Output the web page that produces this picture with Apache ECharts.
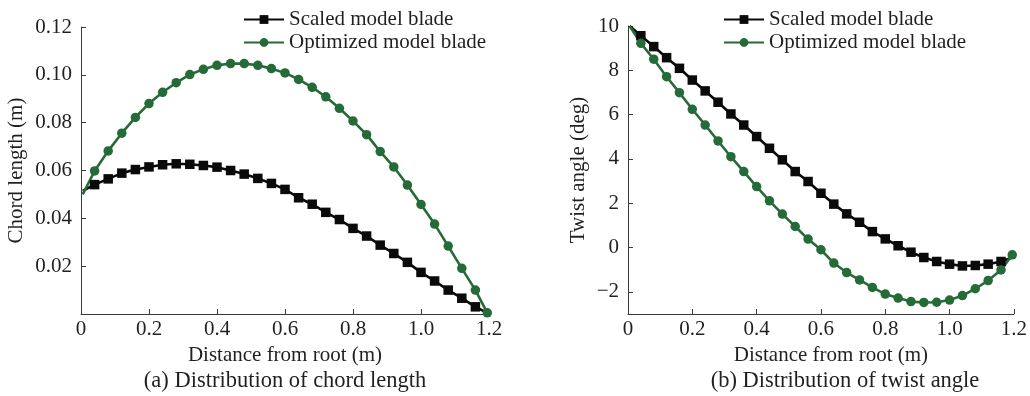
<!DOCTYPE html>
<html>
<head>
<meta charset="utf-8">
<script src="https://cdn.jsdelivr.net/npm/echarts@6/dist/echarts.min.js"></script>
<style>
  html, body { margin: 0; padding: 0; background: #fff; }
  #chart { width: 1030px; height: 396px; }
</style>
</head>
<body>
<div id="chart"></div>
<script>
// distance from root (m), one entry per plotted point
const distance = [0.005, 0.04, 0.08, 0.12, 0.16, 0.2, 0.24, 0.28, 0.32, 0.36, 0.4, 0.44, 0.48, 0.52, 0.56, 0.6,
  0.64, 0.68, 0.72, 0.76, 0.8, 0.84, 0.88, 0.92, 0.96, 1.0, 1.04, 1.08, 1.12, 1.16, 1.195]

// chord length (m)
const chordScaled = [0.0515, 0.0541, 0.0565, 0.0589, 0.0604, 0.0615, 0.0624, 0.0628, 0.0626, 0.0621, 0.0614,
  0.0600, 0.0585, 0.0567, 0.0546, 0.0521, 0.0486, 0.0459, 0.0425, 0.0395, 0.0358, 0.0326, 0.0288, 0.0253,
  0.0216, 0.0174, 0.0138, 0.0100, 0.0066, 0.0030, 0.0005]
const chordOptimized = [0.0500, 0.0598, 0.0682, 0.0756, 0.0822, 0.0880, 0.0927, 0.0967, 0.1001, 0.1023, 0.1040,
  0.1047, 0.1047, 0.1040, 0.1026, 0.1008, 0.0981, 0.0948, 0.0908, 0.0860, 0.0807, 0.0750, 0.0679, 0.0615,
  0.0539, 0.0458, 0.0376, 0.0284, 0.0191, 0.0100, 0.0005]

// twist angle (deg)
const twistScaled = [10.0, 9.56, 9.07, 8.57, 8.09, 7.56, 7.07, 6.56, 6.03, 5.53, 5.01, 4.48, 3.96, 3.43, 2.98,
  2.45, 1.96, 1.52, 1.14, 0.72, 0.39, 0.08, -0.21, -0.45, -0.63, -0.75, -0.83, -0.81, -0.75, -0.63, -0.45]
const twistOptimized = [10.0, 9.22, 8.50, 7.71, 6.99, 6.24, 5.53, 4.81, 4.10, 3.43, 2.75, 2.11, 1.51, 0.95, 0.38,
  -0.10, -0.70, -1.13, -1.46, -1.80, -2.10, -2.28, -2.44, -2.48, -2.47, -2.37, -2.17, -1.86, -1.49, -1.01, -0.33]

const twistTicks = [-2, 0, 2, 4, 6, 8, 10]
const seriesNames = ['Scaled model blade', 'Optimized model blade']
const captions = ['(a) Distribution of chord length', '(b) Distribution of twist angle']

const FONT = 'Liberation Serif, Times New Roman, serif'
const TEXT = '#231f20'
const AXIS = '#3a3a3a'
const BLACK = '#0a0a0a'
const GREEN = '#256b38'

const chart = echarts.init(document.getElementById('chart'))

// first point has no marker; the black end point is hidden under the green one
const toData = (values, hideLast) =>
  distance.map((d, i) => {
    const item = { value: [d, values[i]] }
    if (i === 0 || (hideLast && i === distance.length - 1)) item.symbol = 'none'
    return item
  })

const xAxisBase = (gridIndex) => ({
  type: 'value',
  gridIndex,
  min: 0,
  max: 1.2,
  interval: 0.2,
  name: 'Distance from root (m)',
  nameLocation: 'middle',
  nameGap: 26,
  nameTextStyle: { fontFamily: FONT, fontSize: 21, color: TEXT, padding: gridIndex === 1 ? [0, 0, 0, 20] : 0 },
  axisLine: { onZero: false, lineStyle: { color: AXIS, width: 1 } },
  axisTick: { inside: true, length: 5, lineStyle: { color: AXIS } },
  axisLabel: {
    fontFamily: FONT, fontSize: 21, color: TEXT, margin: 5,
    formatter: (v) => (v === 0 ? '0' : v.toFixed(1)),
  },
  splitLine: { show: false },
})

const makeSeries = (name, symbol, color, values, xi, hideLast) => ({
  name,
  type: 'line',
  xAxisIndex: xi,
  yAxisIndex: xi,
  symbol,
  symbolSize: 9.5,
  showAllSymbol: true,
  lineStyle: { color, width: 2.6 },
  itemStyle: { color },
  data: toData(values, hideLast),
  animation: false,
})

const legendBase = (left) => ({
  data: seriesNames,
  orient: 'vertical',
  left,
  top: 9,
  padding: 0,
  itemWidth: 40,
  itemHeight: 11,
  itemGap: 2,
  textStyle: { fontFamily: FONT, fontSize: 21, color: TEXT },
})

const option = {
  backgroundColor: '#fff',
  animation: false,
  grid: [
    { left: 81, right: 541, top: 27, bottom: 82 },
    { left: 628, right: 15, top: 26, bottom: 82 },
  ],
  legend: [legendBase(243), legendBase(723)],
  xAxis: [xAxisBase(0), xAxisBase(1)],
  yAxis: [
    {
      type: 'value',
      gridIndex: 0,
      min: 0,
      max: 0.12,
      interval: 0.02,
      name: 'Chord length (m)',
      nameLocation: 'middle',
      nameGap: 54,
      nameTextStyle: { fontFamily: FONT, fontSize: 21, color: TEXT },
      axisLine: { show: true, onZero: false, lineStyle: { color: AXIS, width: 1 } },
      axisTick: { show: true, inside: true, length: 5, lineStyle: { color: AXIS } },
      axisLabel: {
        fontFamily: FONT, fontSize: 21, color: TEXT, margin: 9,
        formatter: (v) => (v === 0 ? '' : v.toFixed(2)),
      },
      splitLine: { show: false },
    },
    {
      type: 'value',
      gridIndex: 1,
      min: -3,
      max: 10,
      name: 'Twist angle (deg)',
      nameLocation: 'middle',
      nameGap: 39,
      nameTextStyle: { fontFamily: FONT, fontSize: 21, color: TEXT },
      axisLine: { show: true, onZero: false, lineStyle: { color: AXIS, width: 1 } },
      axisTick: { show: true, inside: true, length: 5, customValues: twistTicks, lineStyle: { color: AXIS } },
      axisLabel: {
        fontFamily: FONT, fontSize: 21, color: TEXT, margin: 9,
        customValues: twistTicks,
        formatter: (v) => (v < 0 ? '\u2212' + Math.abs(v) : String(v)),
      },
      splitLine: { show: false },
    },
  ],
  graphic: captions.map((text, i) => ({
    type: 'text',
    x: i === 0 ? 285 : 845,
    y: 381,
    style: {
      text,
      fontFamily: FONT,
      fontSize: 22.5,
      fill: TEXT,
      align: 'center',
      verticalAlign: 'middle',
    },
  })),
  series: [
    makeSeries(seriesNames[0], 'rect', BLACK, chordScaled, 0, true),
    makeSeries(seriesNames[1], 'circle', GREEN, chordOptimized, 0, false),
    makeSeries(seriesNames[0], 'rect', BLACK, twistScaled, 1, true),
    makeSeries(seriesNames[1], 'circle', GREEN, twistOptimized, 1, false),
  ],
}

chart.setOption(option)
window.addEventListener('resize', () => chart.resize())
</script>
</body>
</html>
